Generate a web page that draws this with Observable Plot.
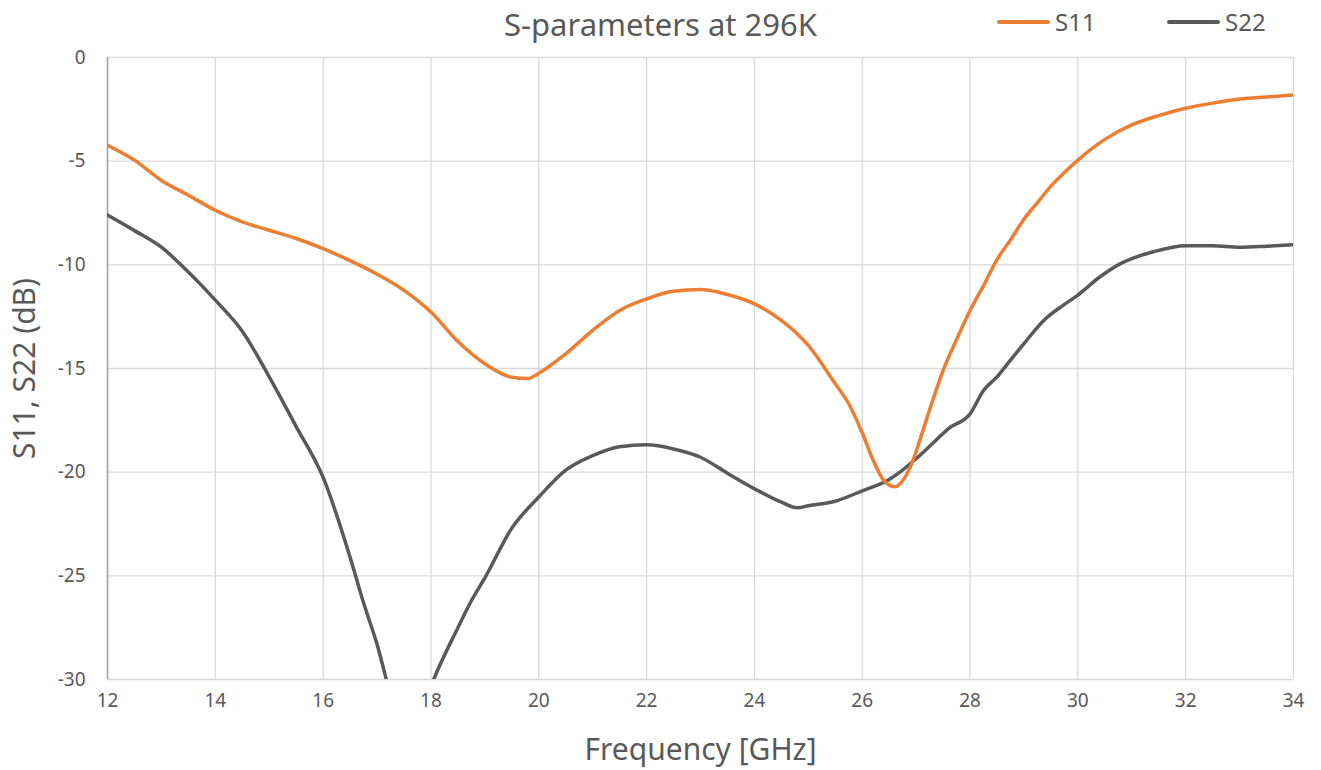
<!DOCTYPE html>
<html>
<head>
<meta charset="utf-8">
<script src="https://cdn.jsdelivr.net/npm/d3@7"></script>
<script src="https://cdn.jsdelivr.net/npm/@observablehq/plot@0.6"></script>
<style>
  html, body { margin: 0; padding: 0; background: #fff; }
  body { width: 1321px; height: 770px; overflow: hidden; font-family: "Noto Sans", sans-serif; color: #595959; }
  #header { position: relative; width: 1321px; height: 40px; }
  #title { position: absolute; left: 0; width: 1321px; top: 4px; text-align: center; font-size: 31px; line-height: 40px; }
  .leg { position: absolute; top: 6px; font-size: 24px; line-height: 32px; display: flex; align-items: center; }
  .leg .sw { display: inline-block; width: 53px; height: 4px; border-radius: 2px; margin-right: 5px; }
  g[aria-label="x-axis label"] { font-size: 30px; }
  g[aria-label="y-axis label"] { font-size: 30px; }
</style>
</head>
<body>
<div id="header">
  <div id="title">S-parameters at 296K</div>
  <div class="leg" style="left:997px"><span class="sw" style="background:#ED7D31"></span>S11</div>
  <div class="leg" style="left:1167px"><span class="sw" style="background:#595959"></span>S22</div>
</div>
<div id="chart"></div>
<script>
const xTicks = [12, 14, 16, 18, 20, 22, 24, 26, 28, 30, 32, 34];
const yTicks = [0, -5, -10, -15, -20, -25, -30];

const freqS11 = [12, 12.5, 13, 13.5, 14, 14.5, 15, 15.5, 16, 16.5, 17, 17.5, 18, 18.5, 19, 19.5, 19.8, 20, 20.5, 21, 21.5, 22, 22.5, 23, 23.5, 24, 24.5, 25, 25.5, 25.75, 26, 26.2, 26.4, 26.6, 26.9, 27.1, 27.3, 27.5, 27.75, 28, 28.25, 28.5, 28.75, 29, 29.25, 29.5, 29.75, 30, 30.5, 31, 31.5, 32, 32.5, 33, 33.5, 34];
const s11 = [-4.23, -4.95, -5.93, -6.64, -7.37, -7.93, -8.33, -8.73, -9.22, -9.8, -10.45, -11.23, -12.28, -13.7, -14.77, -15.42, -15.48, -15.23, -14.29, -13.16, -12.2, -11.64, -11.27, -11.19, -11.43, -11.88, -12.68, -13.89, -15.74, -16.7, -18.1, -19.4, -20.4, -20.7, -19.7, -18.2, -16.6, -15.1, -13.6, -12.2, -11.0, -9.75, -8.8, -7.8, -7.0, -6.2, -5.55, -4.95, -3.95, -3.25, -2.8, -2.45, -2.2, -2.0, -1.9, -1.81];

const freqS22 = [12, 12.5, 13, 13.5, 14, 14.5, 15, 15.5, 16, 16.5, 16.75, 17, 17.3, 17.6, 17.9, 18.05, 18.5, 18.75, 19, 19.5, 20, 20.5, 21, 21.5, 22, 22.5, 23, 23.5, 24, 24.5, 24.8, 25, 25.5, 26, 26.5, 26.7, 27, 27.3, 27.6, 28, 28.25, 28.5, 28.75, 29, 29.4, 29.7, 30, 30.4, 30.8, 31.4, 32, 32.5, 33, 33.5, 34];
const s22 = [-7.6, -8.35, -9.15, -10.35, -11.7, -13.2, -15.4, -17.8, -20.25, -24.1, -26.3, -28.3, -31.2, -33.0, -31.0, -30.0, -27.5, -26.2, -25.1, -22.7, -21.2, -19.9, -19.2, -18.77, -18.68, -18.88, -19.28, -20.05, -20.8, -21.45, -21.72, -21.62, -21.4, -20.9, -20.35, -20.0, -19.35, -18.63, -17.9, -17.19, -16.06, -15.4, -14.6, -13.8, -12.6, -12.0, -11.46, -10.6, -9.93, -9.37, -9.08, -9.08, -9.15, -9.1, -9.03];

const rowsS11 = freqS11.map((f, i) => ({f, v: s11[i]}));
const rowsS22 = freqS22.map((f, i) => ({f, v: s22[i]}));

const chart = Plot.plot({
  width: 1321,
  height: 730,
  marginLeft: 107,
  marginRight: 28,
  marginTop: 17,
  marginBottom: 91,
  style: {fontFamily: "Noto Sans, sans-serif", fontSize: "19px", color: "#595959", background: "white", overflow: "visible"},
  x: {domain: [12, 34]},
  y: {domain: [-30, 0]},
  marks: [
    Plot.gridX(xTicks, {stroke: "#d9d9d9", strokeOpacity: 1, strokeWidth: 1.3}),
    Plot.gridY(yTicks, {stroke: "#d9d9d9", strokeOpacity: 1, strokeWidth: 1.3}),
    Plot.ruleX([12], {stroke: "#a6a6a6", strokeWidth: 1.6}),
    Plot.axisX({ticks: xTicks, tickSize: 0, tickPadding: 14, label: "Frequency [GHz]", labelAnchor: "center", labelArrow: "none", labelOffset: 80, tickFormat: d => String(d), fill: "#595959"}),
    Plot.axisY({ticks: yTicks, tickSize: 0, tickPadding: 22, label: "S11, S22 (dB)", labelAnchor: "center", labelArrow: "none", labelOffset: 94, tickFormat: d => String(d), fill: "#595959"}),
    Plot.line(rowsS22, {x: "f", y: "v", stroke: "#595959", strokeWidth: 3.5, clip: true, curve: "monotone-x"}),
    Plot.line(rowsS11, {x: "f", y: "v", stroke: "#ED7D31", strokeWidth: 3.5, clip: true, curve: "monotone-x"})
  ]
});
document.getElementById("chart").appendChild(chart);
</script>
</body>
</html>
